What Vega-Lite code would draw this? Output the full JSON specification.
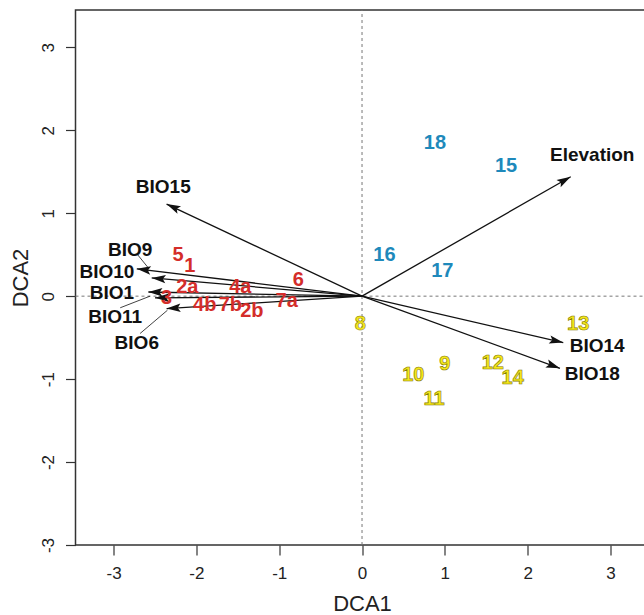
{
  "$schema": "https://vega.github.io/schema/vega-lite/v6.json",
  "width": 580.5,
  "height": 535,
  "autosize": {"type": "none"},
  "padding": {"left": 75.5, "top": 10, "right": 0, "bottom": 70},
  "background": "white",
  "config": {
    "font": "Liberation Sans",
    "view": {"stroke": "#333", "strokeWidth": 1.5}
  },
  "datasets": {
    "guides": [
      {"x": 0, "y": -3, "x2": 0, "y2": 3.45},
      {"x": -3.46, "y": 0, "x2": 3.55, "y2": 0}
    ],
    "arrows": [
      {"name": "BIO15", "x": -2.36, "y": 1.11},
      {"name": "Elevation", "x": 2.52, "y": 1.44},
      {"name": "BIO14", "x": 2.43, "y": -0.56},
      {"name": "BIO18", "x": 2.39, "y": -0.87},
      {"name": "BIO10", "x": -2.72, "y": 0.33},
      {"name": "BIO9", "x": -2.54, "y": 0.22},
      {"name": "BIO1", "x": -2.58, "y": 0.05},
      {"name": "BIO11", "x": -2.5, "y": -0.02},
      {"name": "BIO6", "x": -2.36, "y": -0.15}
    ],
    "leaders": [
      {"x": -2.71, "y": 0.5, "x2": -2.58, "y2": 0.34},
      {"x": -2.92, "y": -0.14, "x2": -2.56, "y2": 0.0},
      {"x": -2.68, "y": -0.45, "x2": -2.35, "y2": -0.17}
    ],
    "varlabels": [
      {"label": "BIO15", "x": -2.4, "y": 1.32},
      {"label": "Elevation", "x": 2.78, "y": 1.7},
      {"label": "BIO14", "x": 2.84, "y": -0.6},
      {"label": "BIO18", "x": 2.78, "y": -0.94},
      {"label": "BIO9", "x": -2.8, "y": 0.56},
      {"label": "BIO10", "x": -3.08, "y": 0.29},
      {"label": "BIO1", "x": -3.02, "y": 0.04},
      {"label": "BIO11", "x": -2.98, "y": -0.25},
      {"label": "BIO6", "x": -2.72, "y": -0.57}
    ],
    "sites": [
      {"label": "5", "x": -2.22, "y": 0.5, "group": "red"},
      {"label": "1", "x": -2.08, "y": 0.36, "group": "red"},
      {"label": "2a", "x": -2.11, "y": 0.11, "group": "red"},
      {"label": "4a", "x": -1.47, "y": 0.11, "group": "red"},
      {"label": "6", "x": -0.77, "y": 0.19, "group": "red"},
      {"label": "7a", "x": -0.91, "y": -0.06, "group": "red"},
      {"label": "3", "x": -2.36, "y": -0.02, "group": "red"},
      {"label": "4b", "x": -1.9, "y": -0.11, "group": "red"},
      {"label": "7b", "x": -1.59, "y": -0.11, "group": "red"},
      {"label": "2b", "x": -1.33, "y": -0.18, "group": "red"},
      {"label": "18", "x": 0.88, "y": 1.85, "group": "blue"},
      {"label": "15", "x": 1.74, "y": 1.57, "group": "blue"},
      {"label": "16", "x": 0.27, "y": 0.5, "group": "blue"},
      {"label": "17", "x": 0.97, "y": 0.3, "group": "blue"}
    ],
    "yellow": [
      {"label": "8", "x": -0.02, "y": -0.33},
      {"label": "13", "x": 2.61, "y": -0.33},
      {"label": "10", "x": 0.62, "y": -0.95},
      {"label": "9", "x": 1.0, "y": -0.82},
      {"label": "12", "x": 1.58, "y": -0.81},
      {"label": "14", "x": 1.82, "y": -0.99},
      {"label": "11", "x": 0.87, "y": -1.24}
    ]
  },
  "encoding": {
    "x": {
      "field": "x",
      "type": "quantitative",
      "scale": {"domain": [-3.46, 3.55], "nice": false, "zero": false},
      "axis": {
        "title": "DCA1",
        "values": [-3, -2, -1, 0, 1, 2, 3],
        "labelExpr": "'' + datum.value",
        "grid": false,
        "domain": false,
        "tickSize": 10,
        "tickColor": "#333",
        "tickWidth": 1.2,
        "labelFontSize": 17,
        "labelColor": "#222",
        "labelBaseline": "middle",
        "labelPadding": 18,
        "titleFontSize": 22,
        "titleFontWeight": "normal",
        "titleColor": "#222",
        "titleBaseline": "middle",
        "titleX": 286.5,
        "titleY": 58
      }
    },
    "y": {
      "field": "y",
      "type": "quantitative",
      "scale": {"domain": [-3, 3.45], "nice": false, "zero": false},
      "axis": {
        "title": "DCA2",
        "values": [-3, -2, -1, 0, 1, 2, 3],
        "labelExpr": "'' + datum.value",
        "grid": false,
        "domain": false,
        "tickSize": 10,
        "tickColor": "#333",
        "tickWidth": 1.2,
        "labelFontSize": 17,
        "labelColor": "#222",
        "labelAngle": -90,
        "labelAlign": "center",
        "labelBaseline": "alphabetic",
        "labelPadding": 12,
        "titleFontSize": 22,
        "titleFontWeight": "normal",
        "titleColor": "#222",
        "titleX": -55,
        "titleBaseline": "middle"
      }
    }
  },
  "layer": [
    {
      "data": {"name": "guides"},
      "mark": {"type": "rule", "color": "#777", "strokeDash": [3, 3], "strokeWidth": 1},
      "encoding": {"x2": {"field": "x2"}, "y2": {"field": "y2"}}
    },
    {
      "data": {"name": "arrows"},
      "mark": {"type": "rule", "color": "#111", "strokeWidth": 1.3},
      "encoding": {"x2": {"datum": 0}, "y2": {"datum": 0}}
    },
    {
      "data": {"name": "arrows"},
      "transform": [{"calculate": "atan2(datum.x, datum.y) * 180 / PI", "as": "ang"}],
      "mark": {"type": "point", "shape": "M0,0L-0.6,2L0,1.6L0.6,2Z", "filled": true, "color": "#111", "opacity": 1, "size": 196, "strokeWidth": 0},
      "encoding": {"angle": {"field": "ang", "type": "quantitative", "scale": null}}
    },
    {
      "data": {"name": "leaders"},
      "mark": {"type": "rule", "color": "#111", "strokeWidth": 0.8},
      "encoding": {"x2": {"field": "x2"}, "y2": {"field": "y2"}}
    },
    {
      "data": {"name": "varlabels"},
      "mark": {"type": "text", "fontWeight": "bold", "fontSize": 19, "color": "#111", "align": "center", "baseline": "middle"},
      "encoding": {"text": {"field": "label"}}
    },
    {
      "data": {"name": "sites"},
      "mark": {"type": "text", "fontWeight": "bold", "fontSize": 20, "align": "center", "baseline": "middle"},
      "encoding": {
        "text": {"field": "label"},
        "color": {"field": "group", "type": "nominal", "scale": {"domain": ["red", "blue"], "range": ["#d42d2a", "#1e89bb"]}, "legend": null}
      }
    },
    {
      "data": {"name": "yellow"},
      "mark": {"type": "text", "fontWeight": "bold", "fontSize": 20, "align": "center", "baseline": "middle", "fill": "#f5e81a", "stroke": "#857800", "strokeWidth": 0.6},
      "encoding": {"text": {"field": "label"}}
    }
  ]
}
